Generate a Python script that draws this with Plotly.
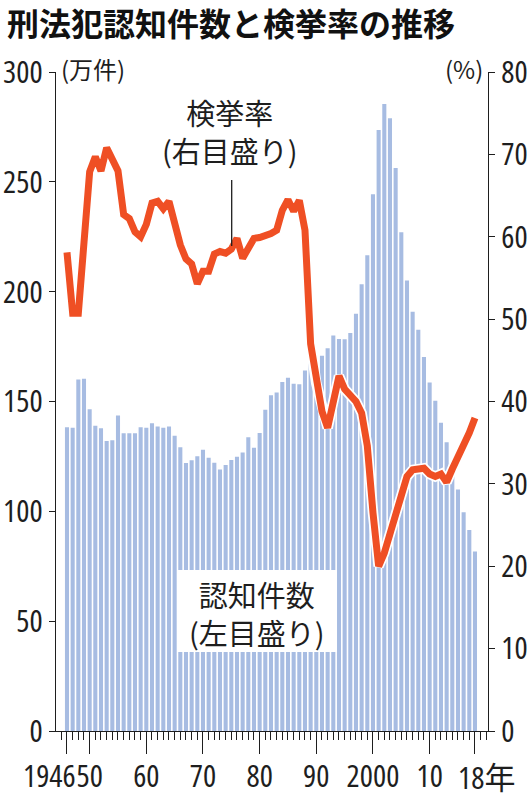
import plotly.graph_objects as go

years = list(range(1946, 2019))

# 刑法犯認知件数 (万件)
cases = [
    138.3, 138.0, 160.0, 160.3, 146.5, 139.0, 137.8, 132.0, 132.4, 143.6,
    135.6, 135.6, 135.6, 138.3, 138.0, 140.1, 138.6, 138.0, 138.6, 134.4,
    129.2, 122.0, 123.2, 125.1, 128.0, 124.4, 122.1, 119.1, 121.1, 123.4,
    124.8, 126.8, 133.7, 128.9, 135.7, 146.3, 152.8, 154.1, 158.9, 160.8,
    158.1, 157.8, 164.1, 167.3, 163.7, 170.8, 174.2, 180.1, 178.4, 178.3,
    181.2, 190.0, 203.4, 216.6, 244.3, 273.6, 285.4, 279.0, 256.3, 227.0,
    205.1, 190.9, 182.7, 170.3, 158.6, 150.3, 140.3, 131.4, 121.2, 109.9,
    99.6, 91.5, 81.7,
]

# 検挙率 (%)
rate = [
    58.1, 50.7, 50.7, 59.5, 67.9, 69.7, 68.0, 70.8, 69.4, 68.0,
    62.7, 62.2, 60.6, 60.0, 61.5, 64.1, 64.3, 63.4, 64.3, 61.5,
    59.0, 57.3, 56.7, 54.3, 55.8, 55.8, 57.9, 58.2, 58.0, 58.5,
    59.8, 57.4, 58.7, 59.8, 59.9, 60.1, 60.4, 60.8, 63.2, 64.5,
    63.1, 64.4, 60.8, 47.0, 42.2, 38.8, 36.8, 40.0, 43.1, 41.5,
    40.8, 40.0, 38.6, 34.6, 26.5, 20.0, 21.6, 24.0, 26.7, 29.2,
    30.9, 31.7, 31.8, 31.9, 31.2, 30.9, 31.2, 30.2, 31.8, 33.2,
    34.5, 36.2, 38.0,
]

left_ticks = [0, 50, 100, 150, 200, 250, 300]
right_ticks = [0, 10, 20, 30, 40, 50, 60, 70, 80]
x_major = [1946, 1950, 1960, 1970, 1980, 1990, 2000, 2010, 2018]
x_major_text = ["", "50", "60", "70", "80", "90", "2000", "10", ""]

NUM_FONT = "Open Sans"
JP_FONT = "Noto Sans CJK JP, sans-serif"
INK = "#1e1e1e"
NUM_SIZE = 31


def cond(s):
    return "<span style='font-stretch:75%'>" + s + "</span>" if s else ""


def numfont():
    return dict(family=NUM_FONT, size=NUM_SIZE, color=INK)


fig = go.Figure()
fig.add_trace(go.Bar(x=years, y=cases, marker=dict(color="#a7bce2", line=dict(width=0)),
                     yaxis="y", showlegend=False, hoverinfo="skip"))
fig.add_trace(go.Scatter(x=years, y=rate, mode="lines", yaxis="y2",
                         line=dict(color="white", width=10.5), showlegend=False, hoverinfo="skip"))
fig.add_trace(go.Scatter(x=years, y=rate, mode="lines", yaxis="y2",
                         line=dict(color="#ef4f24", width=7), showlegend=False))

fig.update_layout(
    width=532, height=798,
    margin=dict(l=56, r=44, t=72, b=67, autoexpand=False),
    paper_bgcolor="white", plot_bgcolor="white",
    bargap=0.28,
    xaxis=dict(range=[1944.06, 2020.3], tickmode="array", tickvals=x_major,
               ticktext=[cond(t) for t in x_major_text],
               ticks="outside", ticklen=22, tickwidth=1.3, tickcolor=INK, tickangle=0,
               automargin=False, ticklabelstandoff=-4,
               minor=dict(tickmode="linear", tick0=1946, dtick=1, ticks="outside", ticklen=8,
                          tickwidth=1, tickcolor=INK),
               showline=True, linecolor=INK, linewidth=1.3, showgrid=False, zeroline=False,
               tickfont=numfont()),
    yaxis=dict(range=[0, 300], tickmode="array", tickvals=left_ticks,
               ticktext=[cond(str(v)) for v in left_ticks],
               ticks="outside", ticklen=6, tickwidth=1.3,
               tickcolor=INK, showline=True, linecolor=INK, linewidth=1.3, showgrid=False,
               zeroline=False, automargin=False, tickfont=numfont()),
    yaxis2=dict(range=[0, 80], tickmode="array", tickvals=right_ticks,
                ticktext=[cond(str(v)) for v in right_ticks], overlaying="y", side="right",
                ticks="outside", ticklen=6, tickwidth=1.3, tickcolor=INK, showline=True,
                linecolor=INK, linewidth=1.3, showgrid=False, zeroline=False, automargin=False,
                tickfont=numfont()),
)

# title
fig.add_annotation(text="刑法犯認知件数と検挙率の推移", x=(5 - 56) / 432, y=(731 - 22) / 659,
                   xref="paper", yref="paper", showarrow=False, xanchor="left", yanchor="middle",
                   font=dict(family=JP_FONT, size=32, color="#111", weight=700))

# white box behind the bar label
fig.add_shape(type="rect", xref="paper", yref="paper", x0=0.2824, x1=0.6505, y0=0.1199, y1=0.2443,
              fillcolor="white", line=dict(width=0), layer="above")
# pointer line for 検挙率
fig.add_shape(type="line", xref="paper", yref="paper", x0=0.4067, x1=0.4067, y0=0.736, y1=0.836,
              line=dict(color=INK, width=1.3), layer="above")

fig.add_annotation(text="認知件数<br>(左目盛り)", x=0.465, y=0.179, xref="paper", yref="paper",
                   showarrow=False, xanchor="center", yanchor="middle",
                   font=dict(family=JP_FONT, size=29, color=INK))
fig.add_annotation(text="検挙率<br>(右目盛り)", x=0.403, y=0.9105, xref="paper", yref="paper",
                   showarrow=False, xanchor="center", yanchor="middle",
                   font=dict(family=JP_FONT, size=29, color=INK))

fig.add_annotation(text="(万件)", x=0.006, y=1.005, xref="paper", yref="paper", showarrow=False,
                   xanchor="left", yanchor="middle", font=dict(family=JP_FONT, size=24, color=INK))
fig.add_annotation(text="(%)", x=0.994, y=1.005, xref="paper", yref="paper", showarrow=False,
                   xanchor="right", yanchor="middle", font=dict(family=JP_FONT, size=24, color=INK))

# odd-position x labels
fig.add_annotation(text=cond("1946"), x=1946, y=0, xref="x", yref="y", showarrow=False,
                   xanchor="right", yanchor="middle", xshift=11, yshift=-44, font=numfont())
fig.add_annotation(text=cond("18") + "<span style='font-family:Noto Sans CJK JP'>年</span>",
                   x=2018, y=0, xref="x", yref="y", showarrow=False,
                   xanchor="left", yanchor="middle", xshift=-19, yshift=-44, font=numfont())

fig.write_html("out.html", config={"displayModeBar": False},
               post_script="document.body.style.margin='0';")
